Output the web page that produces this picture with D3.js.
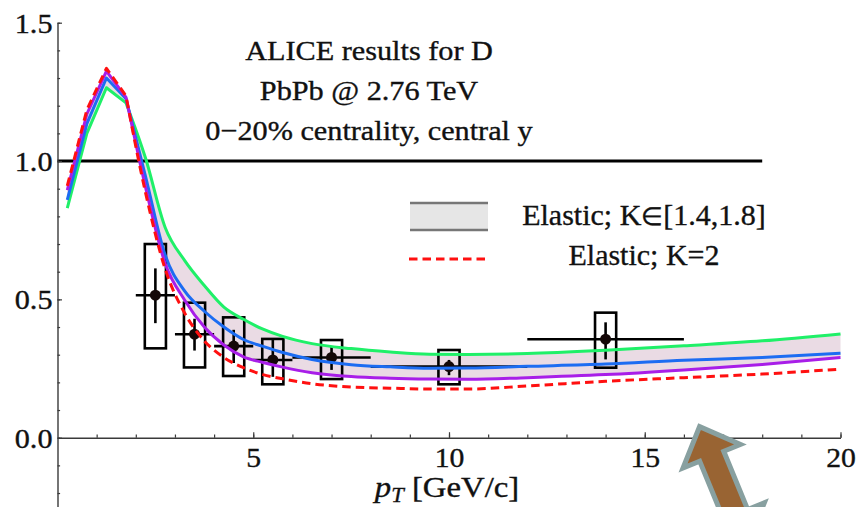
<!DOCTYPE html>
<html><head><meta charset="utf-8">
<script src="https://cdn.jsdelivr.net/npm/d3@7"></script>
<style>html,body{margin:0;padding:0;background:#fff;overflow:hidden}svg{display:block}</style>
</head><body><svg id="chart" width="856" height="507"></svg>
<script>
// ---- data ----
const ptGrid = [0.25, 0.75, 1.25, 1.75, 2.25, 2.75, 3.25, 3.75, 4.25, 4.75, 5.25, 5.75, 6.5, 7.5, 8.5, 9.5, 10.5, 12, 14, 16, 18, 20];
const greenK18 = [0.83, 1.10, 1.265, 1.21, 1.01, 0.76, 0.64, 0.55, 0.472, 0.428, 0.392, 0.366, 0.34, 0.322, 0.31, 0.302, 0.301, 0.304, 0.316, 0.332, 0.35, 0.375];
const blueK16 = [0.86, 1.135, 1.30, 1.225, 0.944, 0.66, 0.53, 0.457, 0.40, 0.355, 0.33, 0.308, 0.283, 0.264, 0.256, 0.251, 0.252, 0.258, 0.266, 0.28, 0.29, 0.305];
const purpleK14 = [0.895, 1.17, 1.325, 1.23, 0.905, 0.63, 0.497, 0.40, 0.335, 0.292, 0.272, 0.255, 0.235, 0.221, 0.215, 0.212, 0.211, 0.217, 0.228, 0.245, 0.265, 0.29];
const redK2 = [0.91, 1.185, 1.335, 1.235, 0.885, 0.61, 0.45, 0.35, 0.29, 0.253, 0.228, 0.213, 0.195, 0.183, 0.179, 0.176, 0.176, 0.187, 0.204, 0.217, 0.23, 0.248];

const dataX = [2.5, 3.5, 4.5, 5.5, 7, 10, 14];
const dataY = [0.515, 0.374, 0.331, 0.281, 0.29, 0.257, 0.356];
const xErrLow = [2, 3, 4, 5, 6, 8, 12];
const xErrHigh = [3, 4, 5, 6, 8, 12, 16];
const statLow = [0.414, 0.315, 0.27, 0.22, 0.245, 0.226, 0.283];
const statHigh = [0.612, 0.43, 0.39, 0.357, 0.329, 0.281, 0.417];
const sysLow = [0.323, 0.254, 0.223, 0.193, 0.212, 0.193, 0.253];
const sysHigh = [0.70, 0.488, 0.435, 0.357, 0.353, 0.317, 0.452];

const xMajorTicks = [5, 10, 15, 20];
const xMinorTicks = d3.range(1, 21);
const yMajorTicks = [0, 0.5, 1.0, 1.5];
const yMinorTicks = d3.range(-2, 16).map(i => i / 10);
const titleLines = ["ALICE results for D", "PbPb @ 2.76 TeV", "0\u221220% centrality, central y"];
const legendLabels = ["Elastic; K\u2208[1.4,1.8]", "Elastic; K=2"];
const refLevel = 1.0, refEnd = 18;

// ---- layout ----
const serif = "'Liberation Serif','Times New Roman',serif";
const ink = "#111";
const svg = d3.select("#chart");
const x = d3.scaleLinear().domain([0, 20]).range([57.5, 840.5]);
const y = d3.scaleLinear().domain([-0.255, 1.5]).range([508.25, 22.7]);
const splitIdx = 3; // linear up to the kink at 1.75, smooth afterwards

function curvePath(vals) {
  const p = ptGrid.map((q, i) => [q, vals[i]]);
  const a = d3.line().x(d => x(d[0])).y(d => y(d[1]))(p.slice(0, splitIdx + 1));
  const b = d3.line().curve(d3.curveMonotoneX).x(d => x(d[0])).y(d => y(d[1]))(p.slice(splitIdx));
  return a + "L" + b.slice(1);
}

// band between K=1.4 and K=1.8
const bandData = ptGrid.map((p, i) => [p, greenK18[i], purpleK14[i]]);
const areaLin = d3.area().x(d => x(d[0])).y0(d => y(d[2])).y1(d => y(d[1]));
const areaSm = d3.area().curve(d3.curveMonotoneX).x(d => x(d[0])).y0(d => y(d[2])).y1(d => y(d[1]));
svg.append("path").attr("d", areaLin(bandData.slice(0, splitIdx + 1))).attr("fill", "#eadbe4");
svg.append("path").attr("d", areaSm(bandData.slice(splitIdx))).attr("fill", "#eadbe4");

// reference line at 1
svg.append("line").attr("x1", x(0)).attr("x2", x(refEnd)).attr("y1", y(refLevel)).attr("y2", y(refLevel))
  .attr("stroke", "#000").attr("stroke-width", 3);

// data points
const pts = dataX.map((v, i) => ({x: v, y: dataY[i], xl: xErrLow[i], xh: xErrHigh[i], sl: statLow[i], sh: statHigh[i], yl: sysLow[i], yh: sysHigh[i]}));
const gd = svg.append("g").attr("stroke", "#000").attr("stroke-width", 2.6);
const boxHalf = 0.27;
gd.selectAll("rect").data(pts).join("rect")
  .attr("x", d => x(d.x - boxHalf)).attr("width", d => x(d.x + boxHalf) - x(d.x - boxHalf))
  .attr("y", d => y(d.yh)).attr("height", d => y(d.yl) - y(d.yh)).attr("fill", "none");
gd.selectAll("line.h").data(pts).join("line").attr("class", "h")
  .attr("x1", d => x(d.xl)).attr("x2", d => x(d.xh)).attr("y1", d => y(d.y)).attr("y2", d => y(d.y));
gd.selectAll("line.v").data(pts).join("line").attr("class", "v")
  .attr("x1", d => x(d.x)).attr("x2", d => x(d.x)).attr("y1", d => y(d.sl)).attr("y2", d => y(d.sh));
gd.selectAll("circle").data(pts).join("circle")
  .attr("cx", d => x(d.x)).attr("cy", d => y(d.y)).attr("r", 5.5).attr("fill", "#140808").attr("stroke", "none");

// curves
const curves = [
  {v: greenK18, c: "#1ff068", dash: null},
  {v: blueK16, c: "#1c6cf2", dash: null},
  {v: purpleK14, c: "#a81ee8", dash: null},
  {v: redK2, c: "#ff1010", dash: "8.5,5"}
];
curves.forEach(cv => {
  svg.append("path").attr("d", curvePath(cv.v)).attr("fill", "none").attr("stroke", cv.c).attr("stroke-width", 3)
    .attr("stroke-linejoin", "round").attr("stroke-dasharray", cv.dash);
});

// axes
function styleAxis(g) {
  g.select(".domain").attr("stroke", "#3a3a3a").attr("stroke-width", 1.4);
  g.selectAll(".tick line").attr("stroke", "#3a3a3a").attr("stroke-width", 1.2);
}
function styleText(sel, size) {
  sel.attr("font-family", serif).attr("font-size", size).attr("fill", ink)
    .attr("stroke", ink).attr("stroke-width", 0.35);
}
const xg = svg.append("g").attr("transform", `translate(0,${y(0)})`);
xg.call(d3.axisBottom(x).tickValues(xMinorTicks).tickSize(-3.2).tickSizeOuter(0).tickFormat(""));
styleAxis(xg);
const xg2 = svg.append("g").attr("transform", `translate(0,${y(0)})`);
xg2.call(d3.axisBottom(x).tickValues(xMajorTicks).tickSize(-5.5).tickSizeOuter(0).tickFormat(d3.format("d")));
xg2.select(".domain").remove();
styleAxis(xg2);
styleText(xg2.selectAll(".tick text").attr("x", null).attr("y", null).attr("dy", null)
  .attr("transform", "translate(0,29.5) scale(1.1,1)"), 27);

const yg = svg.append("g").attr("transform", `translate(${x(0)},0)`);
yg.call(d3.axisLeft(y).tickValues(yMinorTicks).tickSize(-2.6).tickSizeOuter(0).tickFormat(""));
styleAxis(yg);
const yg2 = svg.append("g").attr("transform", `translate(${x(0)},0)`);
yg2.call(d3.axisLeft(y).tickValues(yMajorTicks).tickSize(-4.5).tickSizeOuter(0).tickFormat(d3.format(".1f")));
yg2.select(".domain").remove();
styleAxis(yg2);
styleText(yg2.selectAll(".tick text").attr("x", null).attr("y", null).attr("dy", null)
  .attr("text-anchor", "end").attr("transform", "translate(-5,9.5) scale(1.12,1)"), 27);

// axis title
const at = svg.append("text").attr("transform", `translate(${x(9.95)},497) scale(1.13,1)`)
  .attr("text-anchor", "middle");
styleText(at, 29);
at.append("tspan").attr("font-style", "italic").text("p");
at.append("tspan").attr("font-style", "italic").attr("font-size", 20).attr("dy", 5).text("T");
at.append("tspan").attr("dy", -5).text(" [GeV/c]");

// title block
styleText(svg.append("g").selectAll("text").data(titleLines).join("text")
  .attr("transform", (d, i) => `translate(369,${60 + 40 * i}) scale(1.1,1)`)
  .attr("text-anchor", "middle").text(d => d), 27.5);

// legend
const lg = svg.append("g");
lg.append("rect").attr("x", 410).attr("y", 203).attr("width", 78).attr("height", 27).attr("fill", "#e6e6e6");
lg.append("line").attr("x1", 410).attr("x2", 488).attr("y1", 203).attr("y2", 203).attr("stroke", "#777").attr("stroke-width", 2.4);
lg.append("line").attr("x1", 410).attr("x2", 488).attr("y1", 230).attr("y2", 230).attr("stroke", "#777").attr("stroke-width", 2.4);
lg.append("line").attr("x1", 409).attr("x2", 485).attr("y1", 259).attr("y2", 259).attr("stroke", "#ff1010").attr("stroke-width", 3).attr("stroke-dasharray", "8.5,5");
const lt = lg.selectAll("text").data(legendLabels).join("text")
  .attr("x", 644).attr("y", (d, i) => 225 + 40 * i).attr("text-anchor", "middle");
styleText(lt, 30);
lt.each(function (d) {
  const parts = d.split("\u2208");
  const t = d3.select(this);
  t.append("tspan").text(parts[0]);
  if (parts.length > 1) {
    t.append("tspan").attr("font-size", 25).text("\u2208");
    t.append("tspan").text(parts[1]);
  }
});

// decorative double arrow (annotation), anchored in data coordinates
const arrowTip = [16.40, 0.040];
const dir = [0.38, 0.925], nrm = [0.925, -0.38];
const headLen = 32, headHalf = 31, shaftHalf = 13, shaftLen = 63;
const T1 = [x(arrowTip[0]), y(arrowTip[1])];
const add = (p, v, s) => [p[0] + v[0] * s, p[1] + v[1] * s];
const B1 = add(T1, dir, headLen), B2 = add(B1, dir, shaftLen), T2 = add(B2, dir, headLen);
const poly = [T1, add(B1, nrm, headHalf), add(B1, nrm, shaftHalf), add(B2, nrm, shaftHalf), add(B2, nrm, headHalf), T2,
  add(B2, nrm, -headHalf), add(B2, nrm, -shaftHalf), add(B1, nrm, -shaftHalf), add(B1, nrm, -headHalf)];
svg.append("path").attr("d", d3.line()(poly) + "Z")
  .attr("fill", "#996433").attr("stroke", "#88a0a0").attr("stroke-width", 5).attr("stroke-linejoin", "miter");
</script></body></html>
